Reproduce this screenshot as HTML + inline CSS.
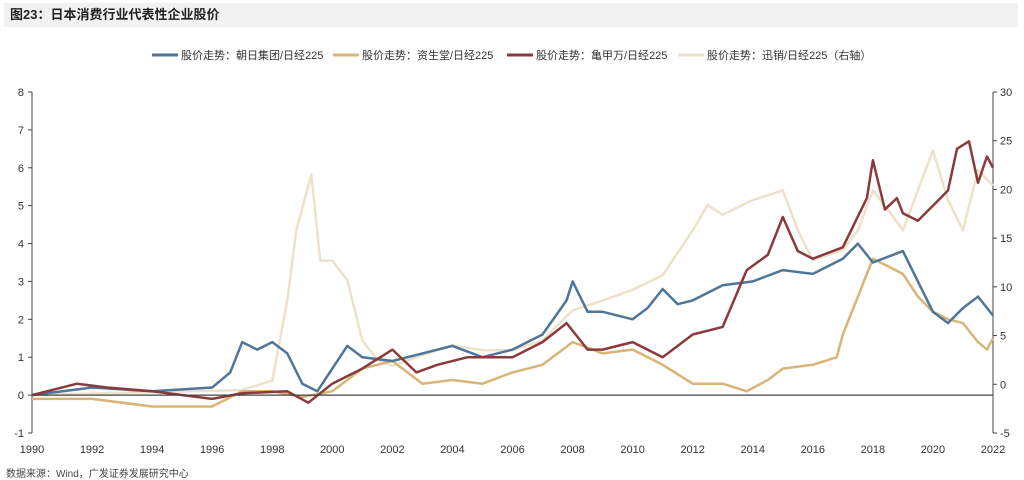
<!DOCTYPE html>
<html><head><meta charset="utf-8"><style>
body{margin:0;width:1024px;height:479px;background:#fff;overflow:hidden;font-family:"Liberation Sans","Noto Sans CJK SC",sans-serif}
#title{position:absolute;left:4px;top:3px;width:1008px;height:24px;background:#f2f2f2;font-size:13px;font-weight:bold;line-height:24px;padding-left:6px;color:#222}
#src{position:absolute;left:6px;top:465px;font-size:10px;color:#444}
svg{position:absolute;left:0;top:0}
</style></head><body>
<div id="title">图23：日本消费行业代表性企业股价</div>
<div id="src">数据来源：Wind，广发证券发展研究中心</div>
<svg id="c" width="1024" height="479"></svg>
<script>
const asahiX=[1990,1992,1994,1996,1996.6,1997,1997.5,1998,1998.5,1999,1999.5,2000,2000.5,2001,2002,2003,2004,2005,2006,2007,2007.8,2008,2008.5,2009,2010,2010.5,2011,2011.5,2012,2013,2014,2015,2016,2017,2017.5,2018,2019,2019.5,2020,2020.5,2021,2021.5,2022];
const asahiY=[0,0.2,0.1,0.2,0.6,1.4,1.2,1.4,1.1,0.3,0.1,0.7,1.3,1.0,0.9,1.1,1.3,1.0,1.2,1.6,2.5,3.0,2.2,2.2,2.0,2.3,2.8,2.4,2.5,2.9,3.0,3.3,3.2,3.6,4.0,3.5,3.8,3.0,2.2,1.9,2.3,2.6,2.1];
const shiX=[1990,1992,1994,1996,1997,1998,1999,2000,2001,2002,2003,2004,2005,2006,2007,2008,2009,2010,2011,2012,2013,2013.8,2014.5,2015,2016,2016.8,2017,2017.5,2018,2018.5,2019,2019.5,2020,2020.5,2021,2021.5,2021.8,2022];
const shiY=[-0.1,-0.1,-0.3,-0.3,0.1,0.1,-0.05,0.1,0.7,0.9,0.3,0.4,0.3,0.6,0.8,1.4,1.1,1.2,0.8,0.3,0.3,0.1,0.4,0.7,0.8,1.0,1.6,2.6,3.6,3.4,3.2,2.6,2.2,2.0,1.9,1.4,1.2,1.5];
const kikX=[1990,1991.5,1992.5,1994,1996,1997,1998.5,1999.2,2000,2001,2002,2002.8,2003.5,2004.5,2005,2006,2007,2007.8,2008.5,2009,2010,2011,2012,2013,2013.8,2014.5,2015,2015.5,2016,2017,2017.8,2018,2018.4,2018.8,2019,2019.5,2020,2020.5,2020.8,2021.2,2021.5,2021.8,2022];
const kikY=[0,0.3,0.2,0.1,-0.1,0.05,0.1,-0.2,0.3,0.7,1.2,0.6,0.8,1.0,1.0,1.0,1.4,1.9,1.2,1.2,1.4,1.0,1.6,1.8,3.3,3.7,4.7,3.8,3.6,3.9,5.2,6.2,4.9,5.2,4.8,4.6,5.0,5.4,6.5,6.7,5.6,6.3,6.0];
const fastX=[1990,1997,1998,1998.5,1998.8,1999.3,1999.6,2000,2000.5,2001,2001.5,2002,2003,2004,2005,2006,2007,2008,2009,2010,2011,2012,2012.5,2013,2014,2015,2015.5,2016,2017,2017.5,2018,2018.5,2019,2019.5,2020,2020.5,2021,2021.5,2022];
const fastY=[-1.1,-0.6,0.4,8.6,15.8,21.5,12.7,12.7,10.7,4.5,2.5,1.9,3,4,3.5,3.5,4.5,7.6,8.6,9.7,11.2,15.8,18.4,17.4,18.9,19.9,15.8,12.7,13.8,15.8,19.9,17.9,15.8,19.9,24,18.9,15.8,22,20.4];
const leftTicks=[-1,0,1,2,3,4,5,6,7,8];
const rightTicks=[-5,0,5,10,15,20,25,30];
const xTicks=[1990,1992,1994,1996,1998,2000,2002,2004,2006,2008,2010,2012,2014,2016,2018,2020,2022];
const X0=32,X1=993,YT=92,YB=433;
const xs=v=>X0+(v-1990)/32*(X1-X0);
const yl=v=>YB-(v+1)/9*(YB-YT);
const yr=v=>YB-(v+5)/35*(YB-YT);
const svg=document.getElementById('c');const NS='http://www.w3.org/2000/svg';
function mk(t,a){const e=document.createElementNS(NS,t);for(const k in a)e.setAttribute(k,a[k]);svg.appendChild(e);return e;}
function txt(x,y,s,anchor,name){const e=mk('text',{x:x,y:y,'font-size':11,fill:'#333','text-anchor':anchor});e.textContent=s;

return e;}
// axes
let a=mk('line',{x1:X0,y1:YT,x2:X0,y2:YB,stroke:'#444'});


a=mk('line',{x1:X1,y1:YT,x2:X1,y2:YB,stroke:'#444'});


leftTicks.forEach(t=>{mk('line',{x1:X0-4,y1:yl(t),x2:X0,y2:yl(t),stroke:'#444'});txt(X0-8,yl(t)+4,t,'end','left-tick-label');});
rightTicks.forEach(t=>{mk('line',{x1:X1,y1:yr(t),x2:X1+4,y2:yr(t),stroke:'#444'});txt(X1+7,yr(t)+4,t,'start','right-tick-label');});
xTicks.forEach(t=>txt(xs(t),453,t,'middle','x-tick-label'));
function series(X,Y,f,color,name,w){const d=X.map((x,i)=>(i?'L':'M')+xs(x).toFixed(1)+','+f(Y[i]).toFixed(1)).join('');
const p=mk('path',{d:d,fill:'none',stroke:color,'stroke-width':w,'stroke-linejoin':'round'});

}
series(fastX,fastY,yr,'#ede2c9','line-fast-retailing',2.5);
series(shiX,shiY,yl,'#d8b577','line-shiseido',2.5);
series(asahiX,asahiY,yl,'#4f7599','line-asahi',2.5);
series(kikX,kikY,yl,'#8b3a3c','line-kikkoman',2.5);
a=mk('line',{x1:X0,y1:yl(0),x2:X1,y2:yl(0),stroke:'#444','stroke-width':1.2});


// legend
const leg=[['股价走势：朝日集团/日经225','#4f7599',152],['股价走势：资生堂/日经225','#d8b577',333],['股价走势：亀甲万/日经225','#8b3a3c',507],['股价走势：迅销/日经225（右轴）','#ede2c9',678]];
leg.forEach(l=>{const g=mk('line',{x1:l[2],y1:55,x2:l[2]+26,y2:55,stroke:l[1],'stroke-width':3});


txt(l[2]+29,59,l[0],'start','legend-entry');});
</script>
</body></html>
